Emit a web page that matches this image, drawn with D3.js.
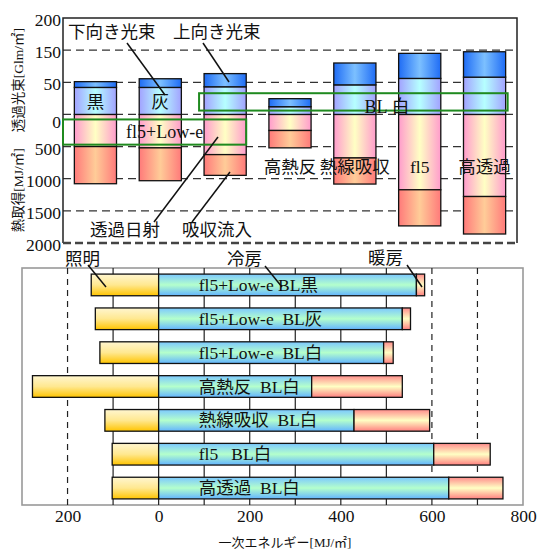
<!DOCTYPE html>
<html>
<head>
<meta charset="utf-8">
<script src="https://cdn.jsdelivr.net/npm/d3@7"></script>
<style>
  body { margin: 0; background: #fff; }
  text { font-family: "Liberation Serif", "Noto Sans CJK JP", serif; fill: #111; }
</style>
</head>
<body>
<svg id="chart" width="537" height="551"></svg>
<script>
// top chart: light flux (upper) and heat gain (lower) per glazing
const glazing = ["fl5+Low-e 黒", "fl5+Low-e 灰", "fl5+Low-e 白", "高熱反 白", "熱線吸収 白", "fl5 白", "高透過 白"];
const downFlux = [42, 42, 43, 12, 46, 62, 66];      // 下向き光束
const upFlux = [10, 19, 34, 12.5, 64, 78, 79];      // 上向き光束
const transSolar = [500, 520, 625, 250, 677, 1172, 1277]; // 透過日射
const absorbed = [578, 511, 323, 270, 406, 562, 583];     // 吸収流入
const fluxTicks = [0, 50, 150, 200];
const heatTicks = [500, 1000, 1500, 2000];
const barTags = ["黒", "灰", "", "高熱反", "熱線吸収", "fl5", "高透過"];

// bottom chart: primary energy
const cases = ["fl5+Low-e BL黒", "fl5+Low-e  BL灰", "fl5+Low-e  BL白", "高熱反  BL白", "熱線吸収  BL白", "fl5   BL白", "高透過  BL白"];
const lighting = [148, 139, 129, 277, 118, 102, 102];
const cooling = [566, 535, 494, 336, 429, 604, 637];
const heating = [18, 18, 21, 199, 166, 124, 119];
const energyTicks = [-200, 0, 200, 400, 600, 800];

const svg = d3.select("#chart");
const defs = svg.append("defs");

function grad(id, stops, vertical) {
  const g = defs.append("linearGradient").attr("id", id)
    .attr("x1", 0).attr("y1", 0).attr("x2", vertical ? 0 : 1).attr("y2", vertical ? 1 : 0);
  stops.forEach((c, i) => g.append("stop").attr("offset", i / (stops.length - 1)).attr("stop-color", c));
}
grad("gUp", ["#1f6cf5", "#7cc0ff", "#1f6cf5"]);
grad("gDown", ["#a2a2ff", "#b6ffff", "#a2a2ff"]);
grad("gTrans", ["#ff9ccc", "#ffffc4", "#ff9ccc"]);
grad("gAbs", ["#ff7a7a", "#ffcc98", "#ff7a7a"]);
grad("gLight", ["#fff6d0", "#ffe890", "#ffc400"], true);
grad("gCool", ["#7cc8ff", "#b4ffcc", "#62b4ff"], true);
grad("gHeat", ["#ff8c8c", "#ffffc4", "#ff8080"], true);

// ---------- top chart ----------
const T = { left: 63, right: 517, top: 18, bottom: 243 };
const step = (T.bottom - T.top) / 7;
const zeroY = T.top + step * 3;

const x1 = d3.scaleBand().domain(glazing).range([T.left, T.right]).paddingInner(0.35).paddingOuter(0.175);
const yFlux = d3.scaleLinear().domain(fluxTicks).range([zeroY, zeroY - step, zeroY - 2 * step, T.top]);
const yHeat = d3.scaleLinear().domain([0, 2000]).range([zeroY, T.bottom]);

const topG = svg.append("g");

// dashed grid
const gridYs = fluxTicks.filter(v => v > 0 && v < 200).map(yFlux).concat([zeroY]).concat(heatTicks.slice(0, 3).map(yHeat));
topG.selectAll(".tg").data(gridYs).enter().append("line")
  .attr("x1", T.left).attr("x2", T.right).attr("y1", d => d).attr("y2", d => d)
  .attr("stroke", "#333").attr("stroke-width", 1.2).attr("stroke-dasharray", "8,5");

const segs = [];
glazing.forEach((g, i) => {
  segs.push({ g, y0: yHeat(0), y1: yHeat(transSolar[i]), f: "gTrans" });
  segs.push({ g, y0: yHeat(transSolar[i]), y1: yHeat(transSolar[i] + absorbed[i]), f: "gAbs" });
  segs.push({ g, y0: yFlux(downFlux[i]), y1: yFlux(0), f: "gDown" });
  segs.push({ g, y0: yFlux(downFlux[i] + upFlux[i]), y1: yFlux(downFlux[i]), f: "gUp" });
});
topG.selectAll(".seg").data(segs).enter().append("rect")
  .attr("x", d => x1(d.g)).attr("width", x1.bandwidth())
  .attr("y", d => Math.min(d.y0, d.y1)).attr("height", d => Math.abs(d.y1 - d.y0))
  .attr("fill", d => "url(#" + d.f + ")")
  .attr("stroke", "#111").attr("stroke-width", 1.3);

// frame
topG.append("path")
  .attr("d", `M${T.left},${T.bottom}V${T.top}H${T.right}V${T.bottom}`)
  .attr("fill", "none").attr("stroke", "#222").attr("stroke-width", 1.5);
topG.append("line").attr("x1", T.left).attr("x2", T.right).attr("y1", T.bottom).attr("y2", T.bottom)
  .attr("stroke", "#444").attr("stroke-width", 2.5).attr("stroke-dasharray", "8,4");

// left axis labels
const axFlux = topG.append("g").attr("transform", `translate(${T.left},0)`)
  .call(d3.axisLeft(yFlux).tickValues(fluxTicks).tickSize(0).tickPadding(2).tickFormat(d3.format("d")));
const axHeat = topG.append("g").attr("transform", `translate(${T.left},0)`)
  .call(d3.axisLeft(yHeat).tickValues(heatTicks).tickSize(0).tickPadding(2).tickFormat(d3.format("d")));
[axFlux, axHeat].forEach(a => {
  a.select(".domain").remove();
  a.selectAll("text").attr("font-size", 17.5).attr("fill", "#111")
    .style("font-family", '"Liberation Serif", serif');
});
axFlux.selectAll("text").attr("dy", d => d === 0 ? "0.75em" : "0.4em");
axHeat.selectAll("text").attr("dy", "0.45em");

topG.append("text").attr("transform", `translate(18,${T.top + 62}) rotate(-90)`)
  .attr("text-anchor", "middle").attr("dominant-baseline", "central")
  .attr("font-size", 13.5).attr("fill", "#333").text("透過光束[Glm/㎡]");
topG.append("text").attr("transform", `translate(18,${yHeat(1180)}) rotate(-90)`)
  .attr("text-anchor", "middle").attr("dominant-baseline", "central")
  .attr("font-size", 13.5).attr("fill", "#333").text("熱取得[MJ/㎡]");

// bar tags
topG.selectAll(".tag").data(glazing).enter().append("text")
  .attr("x", d => x1(d) + x1.bandwidth() / 2)
  .attr("y", (d, i) => i < 2 ? yFlux(20) : yHeat(820))
  .attr("text-anchor", "middle").attr("dominant-baseline", "central")
  .attr("font-size", 17.5).text((d, i) => barTags[i]);

// green boxes
const bw = x1.bandwidth();
topG.append("rect").attr("x", T.left).attr("y", yHeat(78))
  .attr("width", x1(glazing[2]) + bw - T.left).attr("height", yHeat(470) - yHeat(78))
  .attr("fill", "none").attr("stroke", "#1f8a1f").attr("stroke-width", 2);
topG.append("text").attr("x", (T.left + x1(glazing[2]) + bw) / 2 + 10).attr("y", yHeat(270))
  .attr("text-anchor", "middle").attr("dominant-baseline", "central").attr("font-size", 18).text("fl5+Low-e");
topG.append("rect").attr("x", x1(glazing[2]) - 5).attr("y", yFlux(33))
  .attr("width", x1(glazing[6]) + bw + 2 - (x1(glazing[2]) - 5)).attr("height", yFlux(6) - yFlux(33))
  .attr("fill", "none").attr("stroke", "#1f8a1f").attr("stroke-width", 2);
topG.append("text").attr("x", 387).attr("y", yFlux(12))
  .attr("text-anchor", "middle").attr("dominant-baseline", "central").attr("font-size", 18)
  .style("white-space", "pre").text("BL 白");

// annotations
const topNotes = [
  { t: "下向き光束", x: 68, y: 32, lx: 127, ly: 43, tx: 165, ty: 95 },
  { t: "上向き光束", x: 173, y: 32, lx: 203, ly: 43, tx: 229, ty: 82 },
  { t: "透過日射", x: 90, y: 230, lx: 154, ly: 222, tx: 218, ty: 137 },
  { t: "吸収流入", x: 182, y: 230, lx: 192, ly: 222, tx: 230, ty: 172 }
];
topG.selectAll(".nl").data(topNotes).enter().append("line")
  .attr("x1", d => d.lx).attr("y1", d => d.ly).attr("x2", d => d.tx).attr("y2", d => d.ty)
  .attr("stroke", "#111").attr("stroke-width", 1.5);
topG.selectAll(".nt").data(topNotes).enter().append("text")
  .attr("x", d => d.x).attr("y", d => d.y).attr("dominant-baseline", "central")
  .attr("font-size", 17.5).text(d => d.t);

// ---------- bottom chart ----------
const B = { left: 22, right: 523, top: 268, bottom: 505 };
const x2 = d3.scaleLinear().domain([-300, 800]).range([B.left, B.right]);
const y2 = d3.scaleBand().domain(cases).range([B.top, B.bottom]).paddingInner(0.36).paddingOuter(0.18);

const bot = svg.append("g");
bot.append("rect").attr("x", B.left).attr("y", B.top)
  .attr("width", B.right - B.left).attr("height", B.bottom - B.top)
  .attr("fill", "none").attr("stroke", "#999").attr("stroke-width", 1.6);

const vGrid = d3.range(-200, 800, 100);
bot.selectAll(".vg").data(vGrid).enter().append("line")
  .attr("x1", d => x2(d)).attr("x2", d => x2(d)).attr("y1", B.top).attr("y2", B.bottom)
  .attr("stroke", "#222").attr("stroke-width", 1.2)
  .attr("stroke-dasharray", d => (d === -200 || d >= 600) ? "6,5" : null);

const bars = [];
cases.forEach((c, i) => {
  bars.push({ c, a: -lighting[i], b: 0, f: "gLight" });
  bars.push({ c, a: 0, b: cooling[i], f: "gCool" });
  bars.push({ c, a: cooling[i], b: cooling[i] + heating[i], f: "gHeat" });
});
bot.selectAll(".eb").data(bars).enter().append("rect")
  .attr("x", d => x2(d.a)).attr("width", d => x2(d.b) - x2(d.a))
  .attr("y", d => y2(d.c)).attr("height", y2.bandwidth())
  .attr("fill", d => "url(#" + d.f + ")")
  .attr("stroke", "#111").attr("stroke-width", 1.3);

bot.selectAll(".cl").data(cases).enter().append("text")
  .attr("x", x2(88)).attr("y", d => y2(d) + y2.bandwidth() / 2)
  .attr("dominant-baseline", "central").attr("font-size", 17.5)
  .style("white-space", "pre").text(d => d);

const axE = bot.append("g").attr("transform", `translate(0,${B.bottom})`)
  .call(d3.axisBottom(x2).tickValues(energyTicks).tickSize(0).tickPadding(5).tickFormat(d => Math.abs(d)));
axE.select(".domain").remove();
axE.selectAll("text").attr("font-size", 17.5).attr("fill", "#111").style("font-family", '"Liberation Serif", serif');

bot.append("text").attr("x", 285).attr("y", 542).attr("text-anchor", "middle")
  .attr("dominant-baseline", "central").attr("font-size", 13).attr("fill", "#333")
  .text("一次エネルギー[MJ/㎡]");

const botNotes = [
  { t: "照明", x: 65, y: 259, lx: 88, ly: 265, tx: 106, ty: 287 },
  { t: "冷房", x: 227, y: 259, lx: 265, ly: 266, tx: 282, ty: 287 },
  { t: "暖房", x: 368, y: 258, lx: 407, ly: 265, tx: 422, ty: 287 }
];
bot.selectAll(".bl").data(botNotes).enter().append("line")
  .attr("x1", d => d.lx).attr("y1", d => d.ly).attr("x2", d => d.tx).attr("y2", d => d.ty)
  .attr("stroke", "#111").attr("stroke-width", 1.5);
bot.selectAll(".bt").data(botNotes).enter().append("text")
  .attr("x", d => d.x).attr("y", d => d.y).attr("dominant-baseline", "central")
  .attr("font-size", 17.5).text(d => d.t);
</script>
</body>
</html>
